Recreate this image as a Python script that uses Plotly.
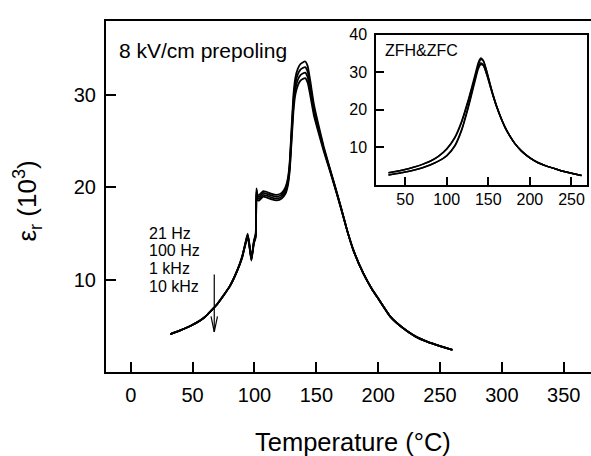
import plotly.graph_objects as go

# ---------------- data ----------------
T_main = [32, 40, 50, 60, 70, 80, 86, 90, 93, 94.5, 96, 97.5, 99.5, 101, 101.6, 102.5, 104, 107, 110, 114,
          118, 122, 125, 127, 128.5, 130, 131.5, 133, 135, 137, 139, 141, 143, 145, 148, 152, 156, 160, 165, 170,
          175, 180, 188, 195, 200, 210, 220, 230, 240, 250, 260]

eps_21Hz = [4.15, 4.55, 5.15, 6.0, 7.4, 9.3, 11.0, 12.5, 14.2, 15.0, 13.8, 12.3, 14.2, 15.0, 19.9, 19.2, 19.2, 19.6, 19.5, 19.3,
            19.2, 19.4, 20.0, 21.0, 22.8, 26.5, 30.0, 31.8, 32.8, 33.3, 33.5, 33.6, 33.1, 31.6, 29.0, 26.6, 24.4, 22.5, 20.2, 17.8,
            15.3, 13.2, 10.7, 9.0, 8.0, 6.0, 4.8, 3.9, 3.3, 2.85, 2.45]
eps_100Hz = [4.15, 4.55, 5.15, 6.0, 7.4, 9.3, 11.0, 12.5, 14.1, 14.9, 13.7, 12.2, 14.1, 14.9, 19.7, 19.0, 19.0, 19.4, 19.3, 19.1,
             19.0, 19.2, 19.8, 20.7, 22.5, 26.0, 29.4, 31.2, 32.2, 32.7, 32.9, 33.0, 32.5, 31.1, 28.6, 26.3, 24.2, 22.4, 20.1, 17.8,
             15.3, 13.2, 10.7, 9.0, 8.0, 6.0, 4.8, 3.9, 3.3, 2.85, 2.45]
eps_1kHz = [4.15, 4.55, 5.15, 6.0, 7.4, 9.3, 11.0, 12.4, 14.1, 14.8, 13.6, 12.2, 14.0, 14.7, 19.5, 18.8, 18.8, 19.2, 19.1, 18.9,
            18.8, 19.0, 19.5, 20.5, 22.1, 25.5, 28.8, 30.6, 31.6, 32.1, 32.3, 32.4, 31.9, 30.5, 28.2, 26.1, 24.1, 22.3, 20.1, 17.7,
            15.3, 13.2, 10.7, 9.0, 8.0, 6.0, 4.8, 3.9, 3.3, 2.85, 2.45]
eps_10kHz = [4.15, 4.55, 5.15, 6.0, 7.4, 9.3, 10.95, 12.4, 14.0, 14.7, 13.5, 12.1, 13.9, 14.6, 19.3, 18.6, 18.6, 19.0, 18.9, 18.7,
             18.6, 18.8, 19.3, 20.2, 21.8, 25.0, 28.2, 30.0, 31.0, 31.5, 31.7, 31.8, 31.3, 30.0, 27.8, 25.8, 23.9, 22.2, 20.0, 17.7,
             15.3, 13.2, 10.7, 9.0, 8.0, 6.0, 4.8, 3.9, 3.3, 2.85, 2.45]

T_inset = [30, 40, 50, 60, 70, 80, 90, 100, 110, 118, 125, 130, 135, 138, 141, 144, 148, 152, 156, 160,
           165, 170, 176, 182, 190, 200, 210, 220, 230, 240, 250, 262]
zfh_21Hz = [3.2, 3.6, 4.1, 4.7, 5.4, 6.3, 7.6, 9.6, 12.8, 17.0, 22.0, 26.0, 30.2, 32.6, 33.8, 33.2, 30.4, 27.0, 23.8, 21.0,
            18.0, 15.4, 13.0, 11.0, 9.0, 7.2, 5.9, 5.0, 4.3, 3.6, 3.1, 2.5]
zfh_10kHz = [3.2, 3.6, 4.1, 4.7, 5.4, 6.3, 7.6, 9.5, 12.6, 16.7, 21.6, 25.5, 29.4, 31.5, 32.5, 32.0, 29.6, 26.5, 23.5, 20.8,
             17.9, 15.4, 13.0, 11.0, 9.0, 7.2, 5.9, 5.0, 4.3, 3.6, 3.1, 2.5]
zfc_21Hz = [2.6, 3.0, 3.4, 3.9, 4.5, 5.3, 6.3, 7.8, 10.6, 14.8, 20.2, 24.6, 29.2, 31.9, 33.4, 33.0, 30.3, 27.0, 23.8, 21.0,
            18.0, 15.4, 13.0, 11.0, 9.0, 7.2, 5.9, 5.0, 4.3, 3.6, 3.1, 2.5]
zfc_10kHz = [2.6, 3.0, 3.4, 3.9, 4.5, 5.3, 6.3, 7.7, 10.4, 14.5, 19.8, 24.1, 28.5, 30.9, 32.1, 31.8, 29.5, 26.5, 23.5, 20.8,
             17.9, 15.4, 13.0, 11.0, 9.0, 7.2, 5.9, 5.0, 4.3, 3.6, 3.1, 2.5]

freq_labels = ["21 Hz", "100 Hz", "1 kHz", "10 kHz"]
main_xticks = [0, 50, 100, 150, 200, 250, 300, 350]
main_yticks = [10, 20, 30]
inset_xticks = [50, 100, 150, 200, 250]
inset_yticks = [10, 20, 30, 40]

FONT = "Liberation Sans, Arial, Helvetica, sans-serif"

fig = go.Figure()
for y in [eps_21Hz, eps_100Hz, eps_1kHz, eps_10kHz]:
    fig.add_trace(go.Scatter(x=T_main, y=y, mode="lines", xaxis="x", yaxis="y",
                             line=dict(color="black", width=1.8, shape="spline", smoothing=0.4),
                             showlegend=False, hoverinfo="skip"))
for y in [zfh_21Hz, zfh_10kHz, zfc_21Hz, zfc_10kHz]:
    fig.add_trace(go.Scatter(x=T_inset, y=y, mode="lines", xaxis="x2", yaxis="y2",
                             line=dict(color="black", width=1.5, shape="spline", smoothing=0.6),
                             showlegend=False, hoverinfo="skip"))

W, H = 591, 456
ax_common = dict(showgrid=False, zeroline=False, showline=True, linecolor="black",
                 ticks="inside", tickcolor="black")

fig.update_layout(
    width=W, height=H, margin=dict(l=0, r=0, t=0, b=0),
    paper_bgcolor="white", plot_bgcolor="white",
    font=dict(family=FONT, color="black"),
    xaxis=dict(**ax_common, domain=[106 / W, 1.0], range=[-20, 372], tickvals=main_xticks,
               linewidth=2, tickwidth=2, ticklen=10, mirror=True, tickfont=dict(size=20),
               ticklabelstandoff=4),
    yaxis=dict(**ax_common, domain=[(H - 371) / H, (H - 13) / H], range=[0, 38], tickvals=main_yticks,
               linewidth=2, tickwidth=2, ticklen=10, mirror=False, tickfont=dict(size=20),
               ticklabelstandoff=4),
    xaxis2=dict(**ax_common, domain=[376 / W, 587.3 / W], range=[15, 269], tickvals=inset_xticks,
                linewidth=1.5, tickwidth=1.5, ticklen=8, mirror=True, anchor="y2",
                tickfont=dict(size=16), ticklabelstandoff=-1),
    yaxis2=dict(**ax_common, domain=[(H - 180) / H, (H - 27.3) / H], range=[0, 40], tickvals=inset_yticks,
                linewidth=1.5, tickwidth=1.5, ticklen=8, mirror=True, anchor="x2",
                tickfont=dict(size=16), ticklabelstandoff=4),
)

# axis titles
fig.add_annotation(text="Temperature (°C)", xref="paper", yref="paper", x=353 / W, y=(H - 441.5) / H,
                   showarrow=False, font=dict(size=25.5), xanchor="center", yanchor="middle", borderpad=0)
fig.add_annotation(text="ε<sub>r</sub> (10<sup>3</sup>)", xref="paper", yref="paper", x=27 / W, y=(H - 197) / H,
                   showarrow=False, font=dict(size=26), textangle=-90, xanchor="center", yanchor="middle")

# texts in plots
fig.add_annotation(text="8 kV/cm prepoling", xref="paper", yref="paper", x=117 / W, y=(H - 43) / H,
                   showarrow=False, font=dict(size=21), xanchor="left", yanchor="middle")
fig.add_annotation(text="ZFH&ZFC", xref="paper", yref="paper", x=383 / W, y=(H - 43) / H,
                   showarrow=False, font=dict(size=16), xanchor="left", yanchor="middle")
label_y = [230, 247, 265, 283]
for lab, yy in zip(freq_labels, label_y):
    fig.add_annotation(text=lab, xref="paper", yref="paper", x=146.5 / W, y=(H - yy) / H,
                       showarrow=False, font=dict(size=16), xanchor="left", yanchor="middle")

# downward arrow (data coords of main axes)
ARROW_X, ARROW_TOP, ARROW_TIP = 67.5, 10.6, 4.4
HEAD_DX, HEAD_DY = 2.6, 1.1
fig.add_shape(type="line", xref="x", yref="y", x0=ARROW_X, x1=ARROW_X, y0=ARROW_TOP, y1=ARROW_TIP,
              line=dict(color="black", width=1.2))
fig.add_shape(type="line", xref="x", yref="y", x0=ARROW_X - HEAD_DX, x1=ARROW_X, y0=ARROW_TIP + HEAD_DY * 1.5,
              y1=ARROW_TIP, line=dict(color="black", width=1.2))
fig.add_shape(type="line", xref="x", yref="y", x0=ARROW_X + HEAD_DX, x1=ARROW_X, y0=ARROW_TIP + HEAD_DY * 1.5,
              y1=ARROW_TIP, line=dict(color="black", width=1.2))

fig.write_html("out.html")
